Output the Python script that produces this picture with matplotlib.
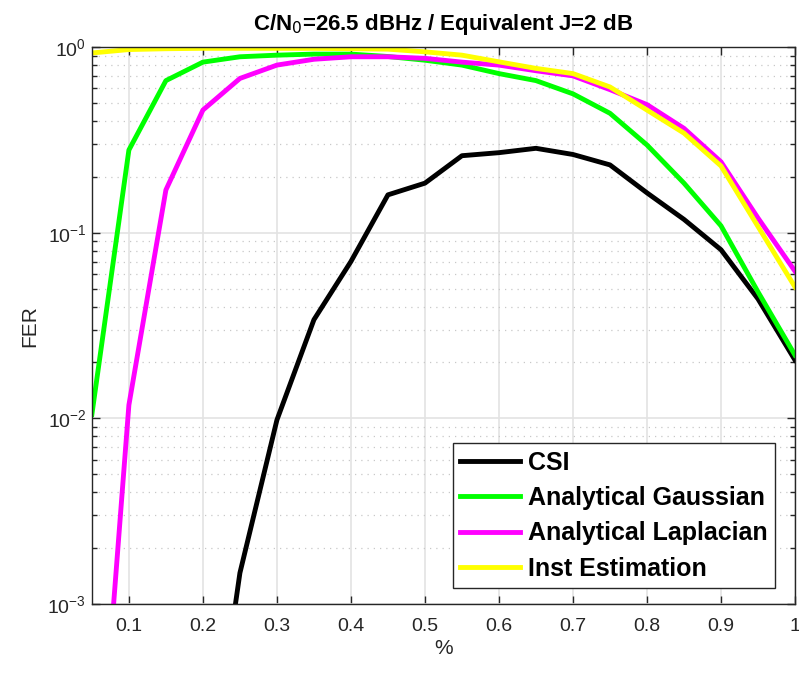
import numpy as np
import matplotlib
matplotlib.use("Agg")
import matplotlib.pyplot as plt
from matplotlib.ticker import LogLocator, NullFormatter

plt.rcParams['font.family'] = ['Liberation Sans', 'DejaVu Sans']

# data
x = [0.05, 0.10, 0.15, 0.20, 0.25, 0.30, 0.35, 0.40, 0.45, 0.50,
     0.55, 0.60, 0.65, 0.70, 0.75, 0.80, 0.85, 0.90, 0.95, 1.00]

csi = [np.nan, np.nan, np.nan, 6e-5, 1.47e-3, 9.8e-3, 0.034, 0.070, 0.16, 0.185,
       0.26, 0.27, 0.285, 0.264, 0.232, 0.164, 0.118, 0.081, 0.044, 0.0206]
gauss = [0.0105, 0.279, 0.66, 0.83, 0.887, 0.905, 0.917, 0.917, 0.89, 0.85,
         0.80, 0.72, 0.66, 0.56, 0.44, 0.297, 0.185, 0.109, 0.048, 0.0219]
laplace = [3e-5, 0.0118, 0.17, 0.458, 0.678, 0.80, 0.86, 0.887, 0.887, 0.87,
           0.83, 0.80, 0.746, 0.70, 0.59, 0.49, 0.365, 0.241, 0.12, 0.062]
inst = [0.93, 0.97, 0.98, 0.985, 0.985, 0.985, 0.985, 0.98, 0.975, 0.943,
        0.905, 0.833, 0.768, 0.72, 0.61, 0.458, 0.344, 0.229, 0.108, 0.051]

labels = ["CSI", "Analytical Gaussian", "Analytical Laplacian", "Inst Estimation"]
colors = ["black", "#00ff00", "#ff00ff", "#ffff00"]

fig = plt.figure(figsize=(7.99, 6.73), dpi=100)
ax = fig.add_axes([0.115, 0.1025, 0.88, 0.8275])

for y, lab, c in zip([csi, gauss, laplace, inst], labels, colors):
    ax.semilogy(x, y, color=c, lw=3.5, label=lab)

ax.set_xlim(0.05, 1)
ax.set_ylim(1e-3, 1)
ax.set_xticks([0.1, 0.2, 0.3, 0.4, 0.5, 0.6, 0.7, 0.8, 0.9, 1])
ax.set_xticklabels(["0.1", "0.2", "0.3", "0.4", "0.5", "0.6", "0.7", "0.8", "0.9", "1"])
ax.yaxis.set_major_locator(LogLocator(base=10, numticks=10))
ax.yaxis.set_minor_locator(LogLocator(base=10, subs=np.arange(2, 10), numticks=10))
ax.yaxis.set_minor_formatter(NullFormatter())

ax.grid(True, which="major", color="#e3e3e3", lw=1.2, ls="-")
ax.grid(True, which="minor", axis="y", color="#c8c8c8", lw=0.9, ls=(0, (1, 4)))
ax.tick_params(which="both", direction="in", top=True, right=True,
               labelsize=14, colors="#262626", width=1)
ax.tick_params(which="major", length=6)
ax.tick_params(which="minor", length=3.5)
ax.tick_params(axis="x", pad=10)
ax.tick_params(axis="y", pad=4)
for s in ax.spines.values():
    s.set_color("#262626")
    s.set_linewidth(1)

ax.set_xlabel("%", fontsize=15, color="#262626", labelpad=3)
ax.set_ylabel("FER", fontsize=15, color="#262626", labelpad=6)
ax.set_title("C/N$_0$=26.5 dBHz / Equivalent J=2 dB", fontsize=16,
             fontweight="bold", pad=12)

leg = ax.legend(loc="lower right", bbox_to_anchor=(0.9716, 0.0287),
                prop={"weight": "bold", "size": 18},
                fancybox=False, framealpha=1, edgecolor="#262626",
                handlelength=2.4, handletextpad=0.3, borderpad=0.3,
                labelspacing=0.45, borderaxespad=0)
leg.get_frame().set_linewidth(1)

fig.savefig("out.png", dpi=100)
